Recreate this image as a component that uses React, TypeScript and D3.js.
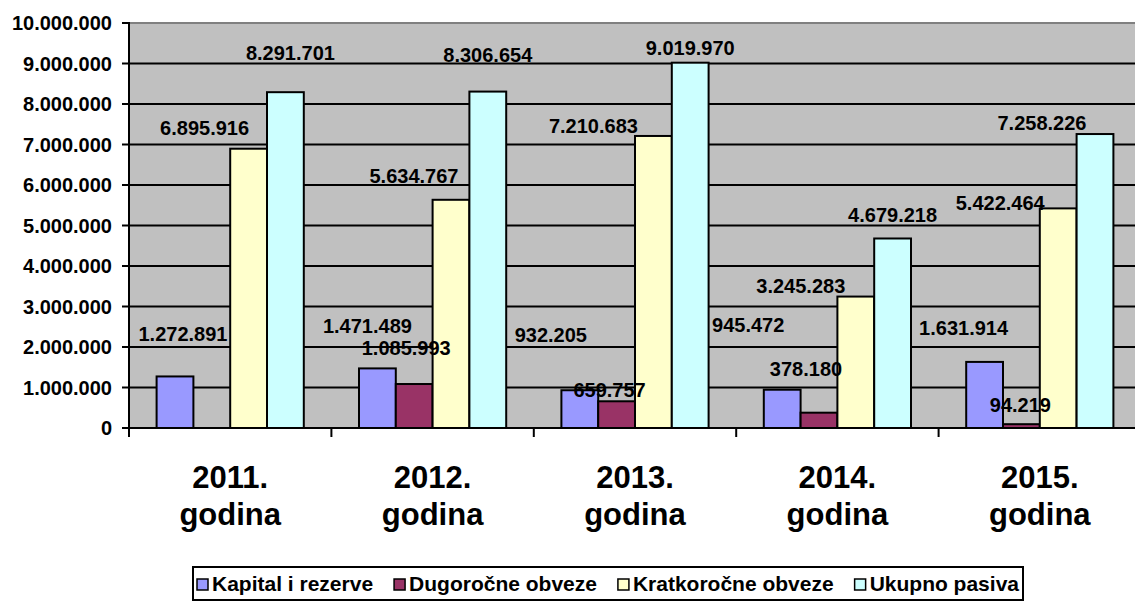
import React, { useEffect, useRef } from "react";
import * as d3 from "d3";

const years = ["2011.", "2012.", "2013.", "2014.", "2015."];
const seriesNames = ["Kapital i rezerve", "Dugoročne obveze", "Kratkoročne obveze", "Ukupno pasiva"];
const kapital = [1272891, 1471489, 932205, 945472, 1631914];
const dugorocne = [null, 1085993, 659757, 378180, 94219];
const kratkorocne = [6895916, 5634767, 7210683, 3245283, 5422464];
const ukupno = [8291701, 8306654, 9019970, 4679218, 7258226];
const yTicks = [0, 1000000, 2000000, 3000000, 4000000, 5000000, 6000000, 7000000, 8000000, 9000000, 10000000];

const colors = ["#9999FF", "#993366", "#FFFFCC", "#CCFFFF"];

// where Excel put each value label, relative to the bar's top centre: [dx, gap above top]
const labelNudge = [
  [[8, 35], [-10, 35], [-29, 48], [-34, 58], [-21, 27]],
  [[0, 0], [-8, 29], [-7, 4], [-13, 37], [-1, 12]],
  [[-44, 14], [-37, 17], [-60, 3], [-55, 4], [-58, -2]],
  [[5, 32], [0, 30], [0, 8], [0, 16], [-53, 4]],
];

const FONT = "'Liberation Sans', Arial, sans-serif";

function App() {
  const svgRef = useRef<SVGSVGElement>(null);

  useEffect(() => {
    const W = 1135;
    const H = 601;
    const left = 129;
    const right = 1141;
    const top = 23;
    const bottom = 428;
    const allSeries = [kapital, dugorocne, kratkorocne, ukupno];

    const fmt = d3.formatLocale({ decimal: ",", thousands: ".", grouping: [3], currency: ["", ""] }).format(",d");

    const x0 = d3.scaleBand().domain(years).range([left, right]);
    const x1 = d3
      .scaleBand()
      .domain(seriesNames)
      .range([0, x0.bandwidth()])
      .paddingInner(0)
      .paddingOuter(0.75);
    const y = d3.scaleLinear().domain([0, 10000000]).range([bottom, top]);

    const svg = d3.select(svgRef.current).attr("width", W).attr("height", H);
    svg.selectAll("*").remove();

    // plot background
    svg
      .append("rect")
      .attr("x", left)
      .attr("y", top)
      .attr("width", right - left)
      .attr("height", bottom - top)
      .attr("fill", "#C0C0C0");
    svg
      .append("line")
      .attr("x1", left)
      .attr("x2", right)
      .attr("y1", top)
      .attr("y2", top)
      .attr("stroke", "#808080")
      .attr("stroke-width", 2);

    // gridlines
    svg
      .selectAll(".grid")
      .data(yTicks.filter((t) => t > 0 && t < 10000000))
      .join("line")
      .attr("x1", left)
      .attr("x2", right)
      .attr("y1", (d) => y(d))
      .attr("y2", (d) => y(d))
      .attr("stroke", "#000")
      .attr("stroke-width", 2);

    // bars
    allSeries.forEach((vals, si) => {
      svg
        .append("g")
        .selectAll("rect")
        .data(vals.map((v, i) => ({ v, i })).filter((d) => d.v != null && d.v > 0))
        .join("rect")
        .attr("x", (d) => (x0(years[d.i]) as number) + (x1(seriesNames[si]) as number))
        .attr("y", (d) => y(d.v as number))
        .attr("width", x1.bandwidth())
        .attr("height", (d) => bottom - y(d.v as number))
        .attr("fill", colors[si])
        .attr("stroke", "#000")
        .attr("stroke-width", 2);
    });

    // axes
    svg.append("line").attr("x1", left).attr("x2", left).attr("y1", top - 1).attr("y2", bottom + 1).attr("stroke", "#000").attr("stroke-width", 2);
    svg.append("line").attr("x1", left).attr("x2", right).attr("y1", bottom).attr("y2", bottom).attr("stroke", "#000").attr("stroke-width", 2);

    svg
      .selectAll(".ytick")
      .data(yTicks)
      .join("line")
      .attr("x1", left - 7)
      .attr("x2", left)
      .attr("y1", (d) => y(d))
      .attr("y2", (d) => y(d))
      .attr("stroke", "#000")
      .attr("stroke-width", 2);
    svg
      .selectAll(".ylab")
      .data(yTicks)
      .join("text")
      .attr("x", left - 17)
      .attr("y", (d) => y(d))
      .attr("dy", "0.36em")
      .attr("text-anchor", "end")
      .attr("font-family", FONT)
      .attr("font-weight", "bold")
      .attr("font-size", 20)
      .text((d) => fmt(d));

    svg
      .selectAll(".xtick")
      .data(years)
      .join("line")
      .attr("x1", (d) => x0(d) as number)
      .attr("x2", (d) => x0(d) as number)
      .attr("y1", bottom)
      .attr("y2", bottom + 9)
      .attr("stroke", "#000")
      .attr("stroke-width", 2);
    const xl = svg
      .selectAll(".xlab")
      .data(years)
      .join("text")
      .attr("text-anchor", "middle")
      .attr("font-family", FONT)
      .attr("font-weight", "bold")
      .attr("font-size", 31);
    xl.append("tspan")
      .attr("x", (d) => (x0(d) as number) + x0.bandwidth() / 2)
      .attr("y", 488)
      .text((d) => d);
    xl.append("tspan")
      .attr("x", (d) => (x0(d) as number) + x0.bandwidth() / 2)
      .attr("y", 525)
      .text("godina");

    // value labels
    allSeries.forEach((vals, si) => {
      svg
        .append("g")
        .selectAll("text")
        .data(vals.map((v, i) => ({ v, i })).filter((d) => d.v != null))
        .join("text")
        .attr("x", (d) => (x0(years[d.i]) as number) + (x1(seriesNames[si]) as number) + x1.bandwidth() / 2 + labelNudge[si][d.i][0])
        .attr("y", (d) => y(d.v as number) - labelNudge[si][d.i][1])
        .attr("text-anchor", "middle")
        .attr("font-family", FONT)
        .attr("font-weight", "bold")
        .attr("font-size", 20)
        .attr("fill", "#000")
        .text((d) => fmt(d.v as number));
    });

    // legend
    const lx0 = 193;
    const lx1 = 1023;
    const ly0 = 567;
    const ly1 = 600;
    svg
      .append("rect")
      .attr("x", lx0)
      .attr("y", ly0)
      .attr("width", lx1 - lx0)
      .attr("height", ly1 - ly0)
      .attr("fill", "#fff")
      .attr("stroke", "#000")
      .attr("stroke-width", 2);
    const lg = svg.append("g");
    const items = seriesNames.map((name, i) => {
      const g = lg.append("g");
      g.append("rect")
        .attr("width", 11)
        .attr("height", 11)
        .attr("y", 579)
        .attr("fill", colors[i])
        .attr("stroke", "#000")
        .attr("stroke-width", 1.5);
      const t = g
        .append("text")
        .attr("x", 15)
        .attr("y", 591)
        .attr("font-family", FONT)
        .attr("font-weight", "bold")
        .attr("font-size", 21)
        .text(name);
      const len = (t.node() as SVGTextElement).getComputedTextLength();
      return { g, w: 15 + len };
    });
    const total = d3.sum(items, (d) => d.w);
    const gap = (lx1 - lx0 - 8 - total) / (items.length - 1);
    let cx = lx0 + 4;
    items.forEach((it) => {
      it.g.attr("transform", `translate(${cx},0)`);
      cx += it.w + gap;
    });
  }, []);

  return (
    <svg
      ref={svgRef}
      style={{ position: "absolute", left: 0, top: 0, display: "block", background: "#fff" }}
    ></svg>
  );
}

export default App;
